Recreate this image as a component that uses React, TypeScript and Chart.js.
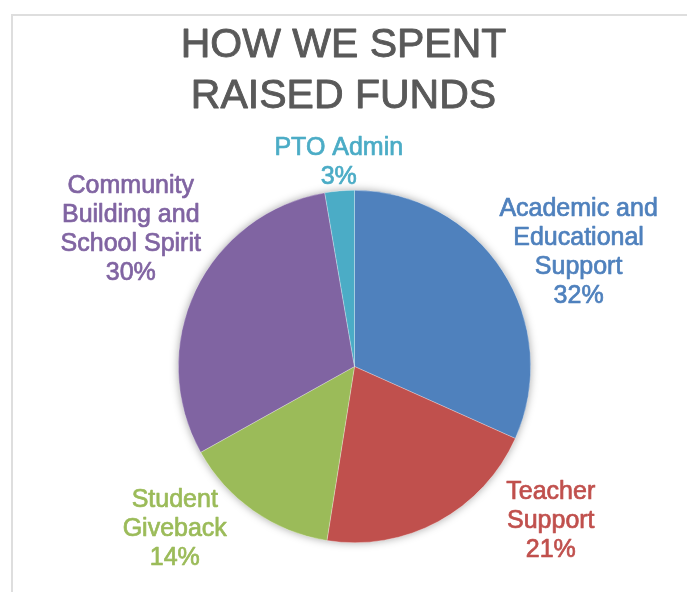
import React, { useEffect, useRef } from "react";
import { Chart, registerables } from "chart.js";

Chart.register(...registerables);

// ---- data ----
const TITLE_LINES = ["HOW WE SPENT", "RAISED FUNDS"];
const CATEGORIES = [
  "Academic and Educational Support",
  "Teacher Support",
  "Student Giveback",
  "Community Building and School Spirit",
  "PTO Admin",
];
const LABEL_LINES = [
  ["Academic and", "Educational", "Support"],
  ["Teacher", "Support"],
  ["Student", "Giveback"],
  ["Community", "Building and", "School Spirit"],
  ["PTO Admin"],
];
const VALUES = [31.7, 20.8, 14.4, 30.4, 2.7];

// ---- styles / layout ----
const COLORS = ["#4F81BD", "#C0504D", "#9BBB59", "#8064A2", "#4BACC6"];
const FONT = "'Liberation Sans', Arial, Helvetica, sans-serif";
// label placement relative to each arc: angle shift from mid-angle (deg), distance in radius units
const LABEL_PLACE = [
  { shift: 5.5, dist: 1.433 },
  { shift: -23.7, dist: 1.411 },
  { shift: 13.3, dist: 1.368 },
  { shift: 6.3, dist: 1.495 },
  { shift: 0.5, dist: 1.174 },
];

const titlePlugin = {
  id: "customTitle",
  afterDraw(chart: any) {
    const ctx = chart.ctx;
    ctx.save();
    ctx.font = `41px ${FONT}`;
    ctx.fillStyle = "#595959";
    ctx.strokeStyle = "#595959";
    ctx.lineWidth = 0.9;
    ctx.lineJoin = "round";
    ctx.textAlign = "center";
    ctx.textBaseline = "alphabetic";
    const cx = chart.width / 2;
    TITLE_LINES.forEach((t, i) => {
      ctx.fillText(t, cx, 57 + i * 50.5);
      ctx.strokeText(t, cx, 57 + i * 50.5);
    });
    ctx.restore();
  },
};

const shadowPlugin = {
  id: "pieShadow",
  beforeDatasetsDraw(chart: any) {
    const meta = chart.getDatasetMeta(0);
    const arc: any = meta.data[0];
    if (!arc) return;
    const ctx = chart.ctx;
    ctx.save();
    ctx.beginPath();
    ctx.arc(arc.x, arc.y, arc.outerRadius, 0, Math.PI * 2);
    ctx.shadowColor = "rgba(0,0,0,0.35)";
    ctx.shadowBlur = 9;
    ctx.fillStyle = "#ffffff";
    ctx.fill();
    ctx.restore();
  },
};

const labelPlugin = {
  id: "outsideLabels",
  afterDatasetsDraw(chart: any) {
    const meta = chart.getDatasetMeta(0);
    const ds = chart.data.datasets[0];
    const total = (ds.data as number[]).reduce((a, b) => a + b, 0);
    const ctx = chart.ctx;
    const size = 25;
    const lh = 29;
    ctx.save();
    ctx.font = `${size}px ${FONT}`;
    ctx.textAlign = "center";
    ctx.textBaseline = "alphabetic";
    ctx.lineWidth = 0.7;
    ctx.lineJoin = "round";
    meta.data.forEach((el: any, i: number) => {
      const p = LABEL_PLACE[i];
      const mid = (el.startAngle + el.endAngle) / 2 + (p.shift * Math.PI) / 180;
      const cx = el.x + Math.cos(mid) * el.outerRadius * p.dist;
      const cy = el.y + Math.sin(mid) * el.outerRadius * p.dist;
      const pct = Math.round(((ds.data[i] as number) / total) * 100) + "%";
      const lines = [...LABEL_LINES[i], pct];
      const startY = cy - ((lines.length - 1) * lh) / 2;
      ctx.fillStyle = COLORS[i];
      ctx.strokeStyle = COLORS[i];
      lines.forEach((t, j) => {
        const y = startY + j * lh + size * 0.358;
        ctx.fillText(t, cx, y);
        ctx.strokeText(t, cx, y);
      });
    });
    ctx.restore();
  },
};

export default function App() {
  const ref = useRef<HTMLCanvasElement | null>(null);
  useEffect(() => {
    if (!ref.current) return;
    const chart = new Chart(ref.current, {
      type: "pie",
      data: {
        labels: CATEGORIES,
        datasets: [
          {
            data: VALUES,
            backgroundColor: COLORS,
            borderColor: "rgba(255,255,255,0.45)",
            borderWidth: 0.6,
          },
        ],
      },
      options: {
        animation: false,
        responsive: true,
        maintainAspectRatio: false,
        layout: { padding: { top: 190, bottom: 49, left: 100, right: 78 } },
        plugins: {
          legend: { display: false },
          title: { display: false },
          tooltip: { enabled: false },
        },
      },
      plugins: [shadowPlugin, labelPlugin, titlePlugin],
    });
    return () => chart.destroy();
  }, []);

  return (
    <div
      style={{
        position: "fixed",
        left: 0,
        top: 0,
        width: 687,
        height: 592,
        overflow: "hidden",
        background: "#ffffff",
      }}
    >
      <div
        style={{
          position: "absolute",
          left: 11,
          top: 14,
          width: 720,
          height: 640,
          borderLeft: "2px solid #dedede",
          borderTop: "2px solid #dedede",
        }}
      />
      <div style={{ position: "absolute", left: 0, top: 0, width: 687, height: 592 }}>
        <canvas ref={ref} />
      </div>
    </div>
  );
}
